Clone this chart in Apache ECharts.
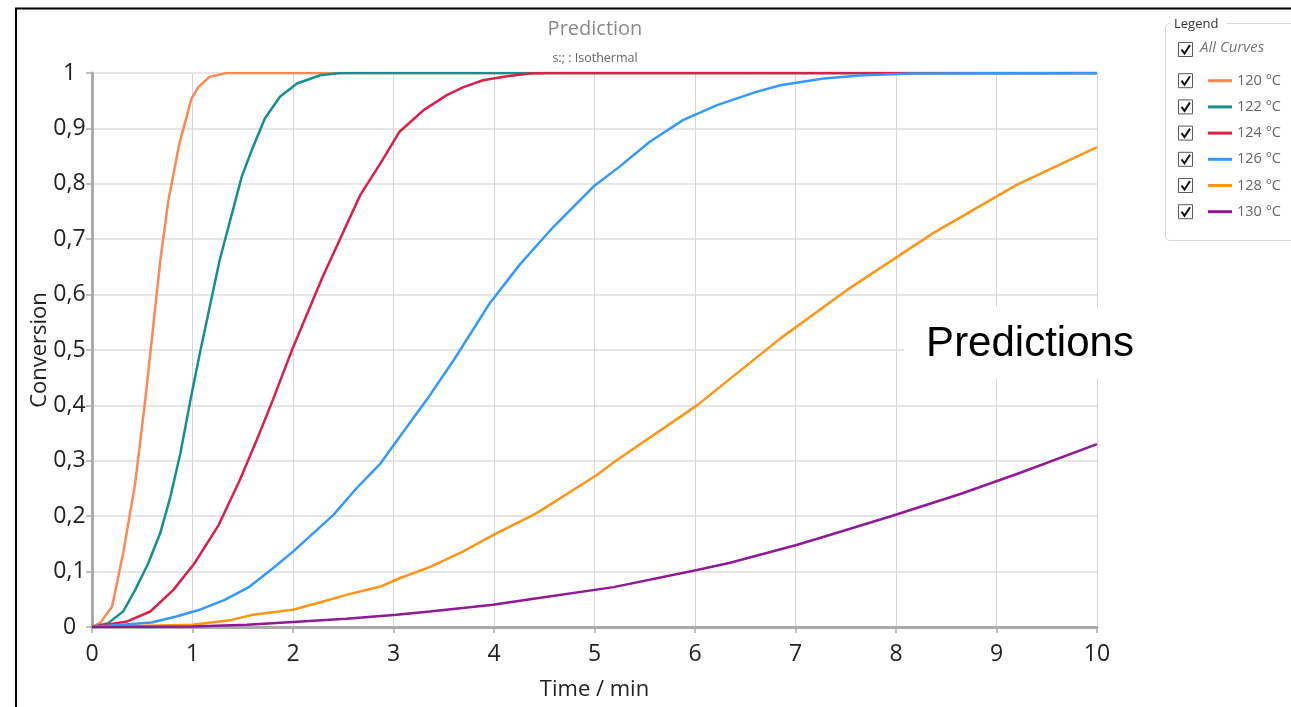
<!DOCTYPE html>
<html>
<head>
<meta charset="utf-8">
<script src="https://cdn.jsdelivr.net/npm/echarts@6/dist/echarts.min.js"></script>
<style>
  html, body { margin: 0; padding: 0; background: #fff; }
  #chart { width: 1291px; height: 707px; }
</style>
</head>
<body>
<div id="chart"></div>
<script>
// Isothermal conversion predictions: time [min] vs conversion, one curve per temperature
const seriesNames = ['120 °C', '122 °C', '124 °C', '126 °C', '128 °C', '130 °C'];
const seriesColors = ['#ff8754', '#14918a', '#dc1f48', '#3399ff', '#ff9514', '#8e1a96'];

const time120 = [0, 0.08, 0.2, 0.31, 0.43, 0.53, 0.68, 0.76, 0.87, 0.99, 1.06, 1.17, 1.34, 10];
const conv120 = [0, 0.007, 0.037, 0.133, 0.26, 0.41, 0.662, 0.77, 0.873, 0.954, 0.975, 0.993, 1.0, 1.0];

const time122 = [0, 0.16, 0.31, 0.43, 0.56, 0.68, 0.78, 0.88, 0.98, 1.08, 1.27, 1.49, 1.59, 1.72, 1.87, 2.04, 2.27, 2.47, 10];
const conv122 = [0, 0.007, 0.028, 0.067, 0.115, 0.17, 0.235, 0.314, 0.41, 0.5, 0.662, 0.813, 0.861, 0.918, 0.957, 0.981, 0.996, 1.0, 1.0];

const time124 = [0, 0.35, 0.58, 0.81, 1.02, 1.26, 1.47, 1.64, 1.80, 1.99, 2.29, 2.67, 2.87, 3.06, 3.30, 3.53, 3.69, 3.89, 4.13, 4.36, 4.52, 10];
const conv124 = [0, 0.01, 0.028, 0.067, 0.115, 0.184, 0.265, 0.338, 0.41, 0.5, 0.63, 0.78, 0.837, 0.894, 0.933, 0.96, 0.974, 0.987, 0.994, 0.999, 1.0, 1.0];

const time126 = [0, 0.59, 0.84, 1.07, 1.32, 1.57, 1.80, 2.00, 2.20, 2.40, 2.63, 2.87, 3.06, 3.33, 3.60, 3.96, 4.26, 4.59, 4.99, 5.25, 5.55, 5.88, 6.22, 6.61, 6.85, 7.28, 7.67, 8.17, 10];
const conv126 = [0, 0.008, 0.019, 0.031, 0.049, 0.073, 0.106, 0.136, 0.169, 0.202, 0.25, 0.295, 0.343, 0.41, 0.482, 0.585, 0.655, 0.722, 0.795, 0.831, 0.876, 0.915, 0.942, 0.966, 0.978, 0.99, 0.996, 0.999, 1.0];

const time128 = [0, 1.0, 1.37, 1.6, 2.0, 2.30, 2.53, 2.87, 3.06, 3.36, 3.69, 3.99, 4.42, 5.02, 5.22, 6.02, 6.85, 7.51, 8.37, 9.20, 10];
const conv128 = [0, 0.004, 0.012, 0.022, 0.031, 0.046, 0.058, 0.073, 0.088, 0.108, 0.136, 0.166, 0.205, 0.274, 0.301, 0.40, 0.521, 0.608, 0.711, 0.798, 0.866];

const time130 = [0, 1.0, 1.54, 2.0, 2.53, 3.03, 3.36, 3.99, 4.36, 5.19, 6.02, 6.35, 7.01, 7.34, 7.95, 8.64, 9.23, 10];
const conv130 = [0, 0.001, 0.004, 0.009, 0.015, 0.022, 0.028, 0.04, 0.05, 0.072, 0.103, 0.116, 0.148, 0.166, 0.2, 0.24, 0.278, 0.33];

const xTicks = [0, 1, 2, 3, 4, 5, 6, 7, 8, 9, 10];
const yTicks = [0, 0.1, 0.2, 0.3, 0.4, 0.5, 0.6, 0.7, 0.8, 0.9, 1];

const curveTimes = [time120, time122, time124, time126, time128, time130];
const curveConv = [conv120, conv122, conv124, conv126, conv128, conv130];

const pairs = (xs, ys) => xs.map((x, i) => [x, ys[i]]);
const decimalComma = v => String(+v.toFixed(1)).replace('.', ',');

const chart = echarts.init(document.getElementById('chart'), null, { renderer: 'canvas' });

const uiFont = '"Open Sans", "Noto Sans", sans-serif';

// checkbox with tick mark, drawn as two plain elements
const checkbox = (x, y) => ([
  { type: 'rect', z: 20, silent: true, shape: { x: x, y: y, width: 14, height: 14 }, style: { fill: '#fff', stroke: '#5a5a5a', lineWidth: 1 } },
  { type: 'polyline', z: 21, silent: true, shape: { points: [[x + 3, y + 7], [x + 6, y + 11], [x + 11.5, y + 2.5]] }, style: { stroke: '#111', lineWidth: 2, fill: null } }
]);

const rowH = 26.2;
const firstRowCenter = 80.7;
const graphics = [
  // outer frame
  { type: 'rect', z: 0, silent: true, shape: { x: 16, y: 8.5, width: 1300, height: 720 }, style: { fill: null, stroke: '#000', lineWidth: 2 } },
  // legend frame with its caption
  { type: 'rect', z: 1, silent: true, shape: { x: 1165.5, y: 23.5, width: 200, height: 217, r: 4 }, style: { fill: null, stroke: '#d9d9d9', lineWidth: 1 } },
  { type: 'rect', z: 2, silent: true, shape: { x: 1170, y: 15, width: 56, height: 16 }, style: { fill: '#fff' } },
  { type: 'text', z: 3, silent: true, x: 1174, y: 24, style: { text: 'Legend', font: '13px ' + uiFont, fill: '#333', verticalAlign: 'middle' } },
  ...checkbox(1178.5, 42.5),
  { type: 'text', z: 3, silent: true, x: 1200, y: 48, style: { text: 'All Curves', font: 'italic 15px ' + uiFont, fill: '#777', verticalAlign: 'middle' } },
  // annotation box
  { type: 'rect', z: 50, silent: true, shape: { x: 904, y: 307, width: 248, height: 72 }, style: { fill: '#fff' } },
  { type: 'text', z: 51, silent: true, x: 1030, y: 344, style: { text: 'Predictions', font: '42px "Liberation Sans", Arial, sans-serif', fill: '#000', align: 'center', verticalAlign: 'middle' } }
];
seriesNames.forEach((n, i) => {
  graphics.push(...checkbox(1178.5, firstRowCenter + i * rowH - 7));
});

chart.setOption({
  backgroundColor: '#fff',
  animation: false,
  title: {
    text: 'Prediction',
    subtext: 's:; : Isothermal',
    left: 590,
    top: 14,
    textAlign: 'center',
    itemGap: 13,
    textStyle: { fontFamily: uiFont, fontSize: 20, fontWeight: 'normal', color: '#8a8a8a' },
    subtextStyle: { fontFamily: uiFont, fontSize: 12.5, color: '#666' }
  },
  legend: {
    orient: 'vertical',
    left: 1208,
    top: firstRowCenter - 8,
    padding: 0,
    data: seriesNames,
    icon: 'rect',
    itemWidth: 24,
    itemHeight: 3,
    itemGap: rowH - 16,
    selectedMode: false,
    textStyle: { fontFamily: uiFont, fontSize: 14.5, color: '#666', lineHeight: 16 },
    z: 10
  },
  grid: { left: 92, right: 194, top: 73, bottom: 80, containLabel: false },
  xAxis: {
    type: 'value',
    min: 0, max: 10, interval: 1,
    name: 'Time / min',
    nameLocation: 'middle',
    nameGap: 52,
    nameMoveOverlap: false,
    nameTextStyle: { fontFamily: uiFont, fontSize: 22, color: '#222' },
    axisLine: { show: true, onZero: false, lineStyle: { color: '#ababab', width: 3 } },
    axisTick: { show: true, length: 6, lineStyle: { color: '#ababab', width: 1.5 } },
    axisLabel: { fontFamily: uiFont, fontSize: 23, color: '#222', margin: 16, formatter: v => String(v) },
    splitLine: { show: true, lineStyle: { color: '#d6d6d6', width: 1 } }
  },
  yAxis: {
    type: 'value',
    min: 0, max: 1, interval: 0.1,
    name: 'Conversion',
    nameLocation: 'middle',
    nameGap: 41,
    nameMoveOverlap: false,
    nameTextStyle: { fontFamily: uiFont, fontSize: 22, color: '#222' },
    axisLine: { show: true, lineStyle: { color: '#ababab', width: 3 } },
    axisTick: { show: true, length: 6, lineStyle: { color: '#ababab', width: 1.5 } },
    axisLabel: { fontFamily: uiFont, fontSize: 23, color: '#222', margin: 22.5, align: 'center', formatter: decimalComma },
    splitLine: { show: true, lineStyle: { color: '#e6e6e6', width: 2 } }
  },
  series: seriesNames.map((name, i) => ({
    name: name,
    type: 'line',
    data: pairs(curveTimes[i], curveConv[i]),
    showSymbol: false,
    symbol: 'none',
    smooth: false,
    clip: true,
    color: seriesColors[i],
    lineStyle: { color: seriesColors[i], width: 2.5 },
    z: 5 + i
  })),
  graphic: graphics
});
</script>
</body>
</html>
